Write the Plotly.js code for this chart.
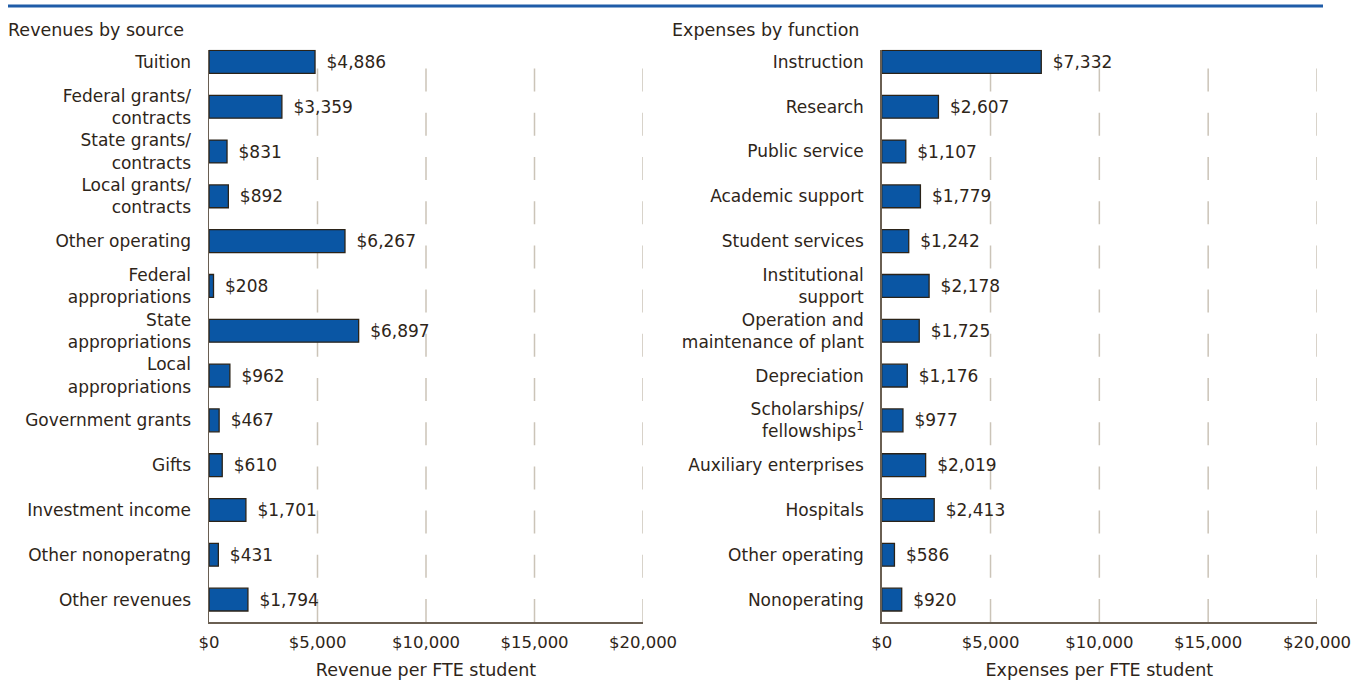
<!DOCTYPE html>
<html>
<head>
<meta charset="utf-8">
<script src="https://cdn.plot.ly/plotly-3.0.1.min.js"></script>
<style>html,body{margin:0;padding:0;background:#fff;}#chart{width:1358px;height:681px;}</style>
</head>
<body>
<div id="chart"></div>
<script>
const revCategories = ["Tuition","Federal grants/<br>contracts","State grants/<br>contracts","Local grants/<br>contracts","Other operating","Federal<br>appropriations","State<br>appropriations","Local<br>appropriations","Government grants","Gifts","Investment income","Other nonoperatng","Other revenues"];
const revValues = [4886,3359,831,892,6267,208,6897,962,467,610,1701,431,1794];
const expCategories = ["Instruction","Research","Public service","Academic support","Student services","Institutional<br>support","Operation and<br>maintenance of plant","Depreciation","Scholarships/<br>fellowships<sup>1</sup>","Auxiliary enterprises","Hospitals","Other operating","Nonoperating"];
const expValues = [7332,2607,1107,1779,1242,2178,1725,1176,977,2019,2413,586,920];
const xTickValues = [0,5000,10000,15000,20000];
const xTickLabels = ["$0","$5,000","$10,000","$15,000","$20,000"];
const gridValues = [5000,10000,15000,20000];
const panelTitles = ["Revenues by source","Expenses by function"];
const axisTitles = ["Revenue per FTE student","Expenses per FTE student"];

const W = 1358, H = 681;
const FONT = "DejaVu Sans";
const TXT = "#2e2519";
const BAR = "#0a56a4";
const EDGE = "#2b2318";
const AXLINE = "#6a5f52";
const GRID = "#cbc4b8";
const FS = 17;

function barTrace(cats, vals, xa, ya){
  return {
    type: "bar", orientation: "h",
    y: cats, x: vals, xaxis: xa, yaxis: ya,
    width: 0.51,
    marker: {color: BAR, line: {color: EDGE, width: 1.3}},
    texttemplate: "\u2002$%{x:,}",
    textposition: "outside",
    textfont: {family: FONT, size: FS, color: TXT},
    cliponaxis: false,
    hoverinfo: "skip"
  };
}

const yTop = 49.8, yBot = 622;
const yDomain = [1 - yBot/H, 1 - yTop/H];

function xAxis(domain, title, anchor){
  return {
    domain: domain, anchor: anchor,
    range: [0, 20000], fixedrange: true,
    tickmode: "array", tickvals: xTickValues, ticktext: xTickLabels,
    showgrid: false, zeroline: false,
    showline: true, linecolor: AXLINE, linewidth: 1.5,
    ticks: "", ticklabelstandoff: 5,
    tickfont: {family: FONT, size: 16.5, color: TXT},
    title: {text: title, font: {family: FONT, size: 17.5, color: TXT}, standoff: 12}
  };
}
function yAxis(anchor){
  return {
    domain: yDomain, anchor: anchor,
    type: "category",
    range: [12.5, -0.27],
    showgrid: false, zeroline: false,
    showline: true, linecolor: AXLINE, linewidth: 1.5,
    ticks: "", ticklabelstandoff: 13,
    tickfont: {family: FONT, size: FS, color: TXT}
  };
}

const shapes = [];
shapes.push({type:"line", xref:"paper", yref:"paper", x0: 8/W, x1: 1323/W, y0: 1-6/H, y1: 1-6/H,
  line:{color:"#1f5ca8", width:3}});
[["x","y domain"],["x2","y2 domain"]].forEach(function(r){
  gridValues.forEach(function(v){
    shapes.push({type:"line", layer:"below", xref:r[0], yref:r[1], x0:v, x1:v, y0:0, y1:1,
      line:{color:GRID, width:1.5, dash:"23px,21.2px"}});
  });
});

const annotations = [
  {text: panelTitles[0], xref:"paper", yref:"paper", x: 6/W, y: 1-30/H, xanchor:"left", yanchor:"middle", showarrow:false,
   font:{family:FONT, size:17.5, color:TXT}},
  {text: panelTitles[1], xref:"paper", yref:"paper", x: 670/W, y: 1-30/H, xanchor:"left", yanchor:"middle", showarrow:false,
   font:{family:FONT, size:17.5, color:TXT}}
];

const layout = {
  width: W, height: H,
  margin: {l:0, r:0, t:0, b:0},
  paper_bgcolor: "#fff", plot_bgcolor: "rgba(0,0,0,0)",
  showlegend: false,
  bargap: 0.49,
  xaxis: xAxis([209/W, 643/W], axisTitles[0], "y"),
  yaxis: yAxis("x"),
  xaxis2: xAxis([881.7/W, 1317/W], axisTitles[1], "y2"),
  yaxis2: yAxis("x2"),
  shapes: shapes,
  annotations: annotations,
  font: {family: FONT, color: TXT}
};

Plotly.newPlot("chart", [barTrace(revCategories, revValues, "x", "y"), barTrace(expCategories, expValues, "x2", "y2")], layout, {displayModeBar:false, staticPlot:true});
</script>
</body>
</html>
